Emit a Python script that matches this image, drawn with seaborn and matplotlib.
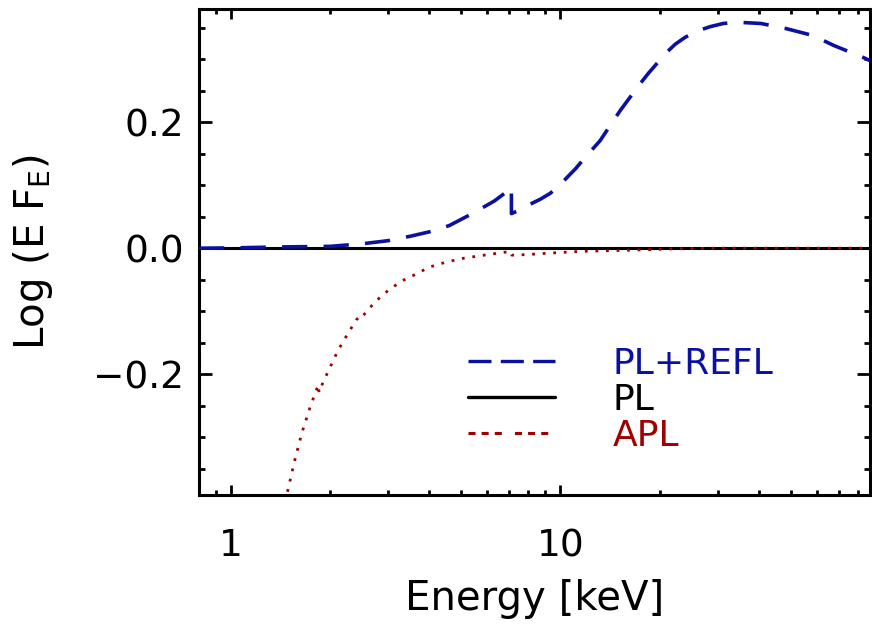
import matplotlib
matplotlib.use("Agg")
import matplotlib.pyplot as plt
from matplotlib.lines import Line2D
from matplotlib.ticker import FixedLocator, NullFormatter
import seaborn as sns
import pandas as pd

# ---- data ----
refl_energy = [0.8, 1.0, 1.41, 2.0, 2.5, 3.0, 3.5, 4.0, 4.6, 5.4, 6.3, 6.8, 7.1,
               7.1001, 7.6, 8.1, 8.7, 9.3, 9.9, 10.5, 11.1, 11.7, 12.4, 13.2,
               14.2, 15.2, 16.6, 17.5, 18.5, 20.9, 22.3, 23.9, 26.0, 28.5, 31.2,
               34.4, 40.6, 48.3, 58.3, 67.6, 83.0, 87.0]
refl_logflux = [0.0, 0.0005, 0.002, 0.003, 0.007, 0.012, 0.019, 0.026, 0.036,
                0.055, 0.075, 0.088, 0.097, 0.055, 0.062, 0.070, 0.078, 0.087,
                0.099, 0.113, 0.126, 0.140, 0.155, 0.171, 0.196, 0.219, 0.246,
                0.262, 0.278, 0.310, 0.324, 0.335, 0.345, 0.352, 0.357, 0.359,
                0.357, 0.349, 0.338, 0.322, 0.303, 0.298]

pl_energy = [0.8, 87.0]
pl_logflux = [0.0, 0.0]

apl_energy = [1.45, 1.48, 1.565, 1.64, 1.74, 1.82, 1.845, 1.85, 1.9, 2.0, 2.11,
              2.25, 2.4, 2.47, 2.5, 2.74, 3.0, 3.3, 3.68, 4.0, 4.5, 5.07, 5.7,
              6.43, 7.08, 7.12, 8.0, 9.1, 11.5, 16.6, 22.0, 30.0, 87.0]
apl_logflux = [-0.42, -0.39, -0.335, -0.294, -0.252, -0.224, -0.217, -0.229,
               -0.214, -0.189, -0.163, -0.138, -0.114, -0.107, -0.109, -0.085,
               -0.067, -0.052, -0.040, -0.030, -0.022, -0.016, -0.012, -0.008,
               -0.005, -0.011, -0.010, -0.008, -0.005, -0.003, -0.001, 0.0, 0.0]

legend_labels = ["PL+REFL", "PL", "APL"]
x_tick_values = [1, 10]
x_tick_labels = ["1", "10"]
y_tick_values = [-0.2, 0.0, 0.2]
y_tick_labels = ["\u22120.2", "0.0", "0.2"]

BLUE = "#0a10a0"
RED = "#a00000"
BLACK = "#000000"

sns.set_theme(style="ticks")
plt.rcParams["font.family"] = ["DejaVu Sans"]
plt.rcParams["mathtext.fontset"] = "dejavusans"
plt.rcParams["text.color"] = "black"
plt.rcParams["axes.labelcolor"] = "black"
plt.rcParams["xtick.labelcolor"] = "black"
plt.rcParams["ytick.labelcolor"] = "black"

fig = plt.figure(figsize=(8.72, 6.24), dpi=100)
ax = fig.add_axes([199 / 872, 1 - 495 / 624, 671 / 872, 486 / 624])

df_refl = pd.DataFrame({"E": refl_energy, "v": refl_logflux})
df_pl = pd.DataFrame({"E": pl_energy, "v": pl_logflux})
df_apl = pd.DataFrame({"E": apl_energy, "v": apl_logflux})

sns.lineplot(data=df_pl, x="E", y="v", ax=ax, color=BLACK, lw=2.2,
             estimator=None, sort=False, zorder=2)
sns.lineplot(data=df_refl, x="E", y="v", ax=ax, color=BLUE, lw=2.6,
             estimator=None, sort=False, zorder=3)
ax.lines[-1].set_dashes([7, 4.5])
sns.lineplot(data=df_apl, x="E", y="v", ax=ax, color=RED, lw=2.0,
             estimator=None, sort=False, zorder=3)
ax.lines[-1].set_dashes([1, 2.8])

ax.set_xscale("log")
ax.set_xlim(0.8, 87.0)
ax.set_ylim(-0.392, 0.38)

ax.xaxis.set_major_locator(FixedLocator(x_tick_values))
ax.set_xticklabels(x_tick_labels)
minor_x = [m * 10 ** d for d in (-1, 0, 1) for m in range(2, 10)]
ax.xaxis.set_minor_locator(FixedLocator(minor_x))
ax.xaxis.set_minor_formatter(NullFormatter())

ax.set_yticks(y_tick_values)
ax.set_yticklabels(y_tick_labels)
minor_y = [-0.35, -0.3, -0.25, -0.15, -0.1, -0.05, 0.05, 0.1, 0.15, 0.25, 0.3, 0.35]
ax.yaxis.set_minor_locator(FixedLocator(minor_y))

for s in ax.spines.values():
    s.set_linewidth(2.2)
    s.set_color("black")
    s.set_visible(True)

ax.tick_params(axis="both", which="both", direction="in", top=True, right=True,
               color="black", width=2.0, labelsize=27, labelcolor="black")
ax.tick_params(axis="x", which="major", length=7, pad=24)
ax.tick_params(axis="x", which="minor", length=3.5)
ax.tick_params(axis="y", which="major", length=9.5, pad=11)
ax.tick_params(axis="y", which="minor", length=4.5)

ax.set_xlabel("Energy [keV]", fontsize=29, color="black")
ax.set_ylabel("Log (E F$_\\mathregular{E}$)", fontsize=29, color="black")
ax.yaxis.set_label_coords(-0.215, 0.5)
ax.xaxis.set_label_coords(0.5, -0.172)
ax.grid(False)

handles = [
    Line2D([], [], color=BLUE, lw=2.4, dashes=[6.9, 2.8]),
    Line2D([], [], color=BLACK, lw=2.4),
    Line2D([], [], color=RED, lw=2.2, dashes=[2.3, 2.0, 2.3, 2.0, 2.3, 4.3]),
]
leg = ax.legend(handles, legend_labels, loc="upper left",
                bbox_to_anchor=((468 - 199) / 671, (495 - 347) / 486),
                frameon=False, fontsize=26, handlelength=2.4,
                handletextpad=1.6, labelspacing=0.05, borderpad=0,
                borderaxespad=0)
for txt, c in zip(leg.get_texts(), [BLUE, BLACK, RED]):
    txt.set_color(c)

fig.savefig("out.png", dpi=100)
